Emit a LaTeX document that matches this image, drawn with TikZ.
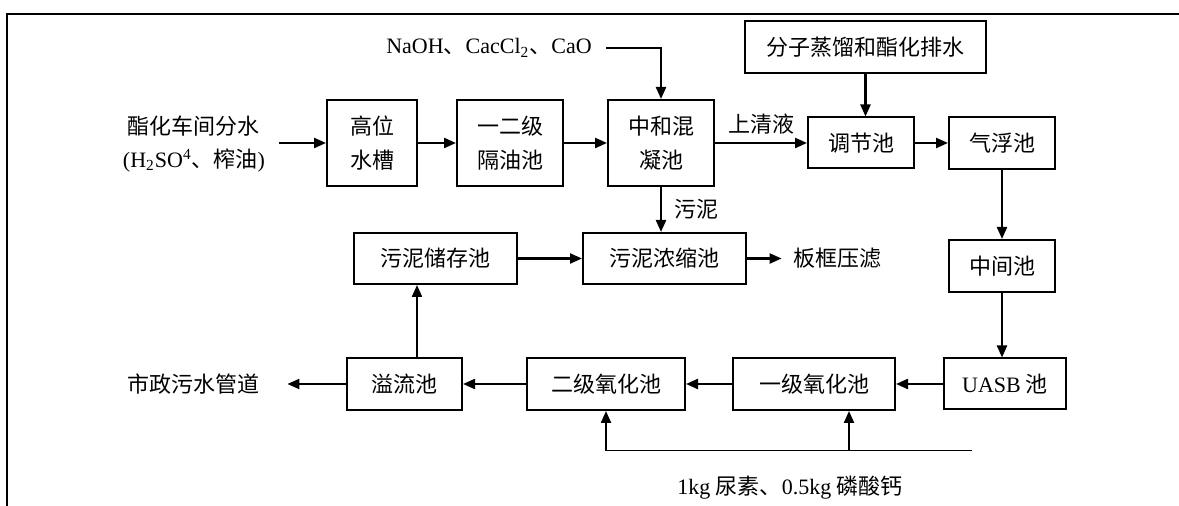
\documentclass[tikz,border=0pt]{standalone}
\usepackage{fontspec}
\setmainfont{Liberation Serif}
\newfontfamily\cjk{Noto Sans CJK SC}
\usetikzlibrary{arrows.meta}

\begin{document}
\begin{tikzpicture}[x=0.5pt,y=-0.5pt,
  box/.style={draw, line width=1pt, inner sep=0pt, align=center, font=\cjk\fontsize{11}{17}\selectfont},
  note/.style={inner sep=0pt, align=center, font=\fontsize{11}{16.5}\selectfont},
  zh/.style={note, font=\cjk\fontsize{11}{16.5}\selectfont},
  arr/.style={-{Triangle[length=6pt,width=5pt]}, line width=1.1pt}]
  \useasboundingbox (0,0) rectangle (1179,506);
  \draw[line width=1.3pt] (7,506) -- (7,14) -- (1179,14);

  \node[note] (src) at (194,144) {{\cjk 酯化车间分水}\\(H\textsubscript{2}SO\textsuperscript{4}{\cjk 、榨油})};
  \node[box, minimum width=45pt, minimum height=43pt] (gaowei) at (372,143) {高位\\水槽};
  \node[box, minimum width=53pt, minimum height=43pt] (geyou) at (510,143) {一二级\\隔油池};
  \node[box, minimum width=53pt, minimum height=43pt] (zhonghe) at (661,143) {中和混\\凝池};
  \node[note] (chem) at (489,48) {NaOH{\cjk 、}CacCl\textsubscript{2}{\cjk 、}CaO};
  \node[box, minimum width=120.5pt, minimum height=26pt] (fenzi) at (865.5,47) {分子蒸馏和酯化排水};
  \node[box, minimum width=53pt, minimum height=25.5pt] (tiaojie) at (861,143) {调节池};
  \node[box, minimum width=53pt, minimum height=26pt] (qifu) at (1002,143) {气浮池};
  \node[box, minimum width=53pt, minimum height=26pt] (zhongjian) at (1002,266) {中间池};
  \node[box, minimum width=61pt, minimum height=25.5pt] (uasb) at (1005,384) {{\rmfamily UASB} 池};
  \node[box, minimum width=81pt, minimum height=26pt] (yiji) at (814,384) {一级氧化池};
  \node[box, minimum width=79pt, minimum height=26pt] (erji) at (606,384) {二级氧化池};
  \node[box, minimum width=57.5pt, minimum height=26pt] (yiliu) at (404.5,384) {溢流池};
  \node[zh] (dest) at (193,384) {市政污水管道};
  \node[box, minimum width=81.5pt, minimum height=25.5pt] (chucun) at (435.5,258.5) {污泥储存池};
  \node[box, minimum width=81.5pt, minimum height=25.5pt] (nongsuo) at (664.5,258.5) {污泥浓缩池};
  \node[zh] (press) at (837,258.5) {板框压滤};
  \node[note] (feed) at (790,488) {1kg {\cjk 尿素、}0.5kg {\cjk 磷酸钙}};

  \draw[arr, shorten <=7pt] (src.east |- gaowei.west) -- (gaowei.west);
  \draw[arr] (gaowei) -- (geyou);
  \draw[arr] (geyou) -- (zhonghe);
  \draw[arr, shorten <=7pt] (chem.east) -| (zhonghe.north);
  \draw[arr] (zhonghe) -- (tiaojie) node[zh, midway, above=4pt] {上清液};
  \draw[arr] (fenzi.south) -- (fenzi.south |- tiaojie.north);
  \draw[arr] (tiaojie) -- (qifu);
  \draw[arr] (qifu) -- (zhongjian);
  \draw[arr] (zhongjian.south) -- (zhongjian.south |- uasb.north);
  \draw[arr] (uasb) -- (yiji);
  \draw[arr] (yiji) -- (erji);
  \draw[arr] (erji) -- (yiliu);
  \draw[arr, shorten >=14pt] (yiliu) -- (dest);
  \draw[arr] (zhonghe.south) -- (zhonghe.south |- nongsuo.north) node[zh, midway, right=6pt] {污泥};
  \draw[arr] (yiliu.north -| 417,0) -- (417,0 |- chucun.south);
  \draw[arr] (chucun) -- (nongsuo);
  \draw[arr, shorten >=5.5pt] (nongsuo) -- (press);

  \coordinate (feedA) at (606,451);
  \coordinate (feedB) at (849,451);
  \coordinate (feedC) at (972,451);
  \draw[line width=0.5pt] (feedA) -- (feedC);
  \draw[arr] (feedA) -- (erji.south);
  \draw[arr] (feedB) -- (feedB |- yiji.south);
\end{tikzpicture}
\end{document}
